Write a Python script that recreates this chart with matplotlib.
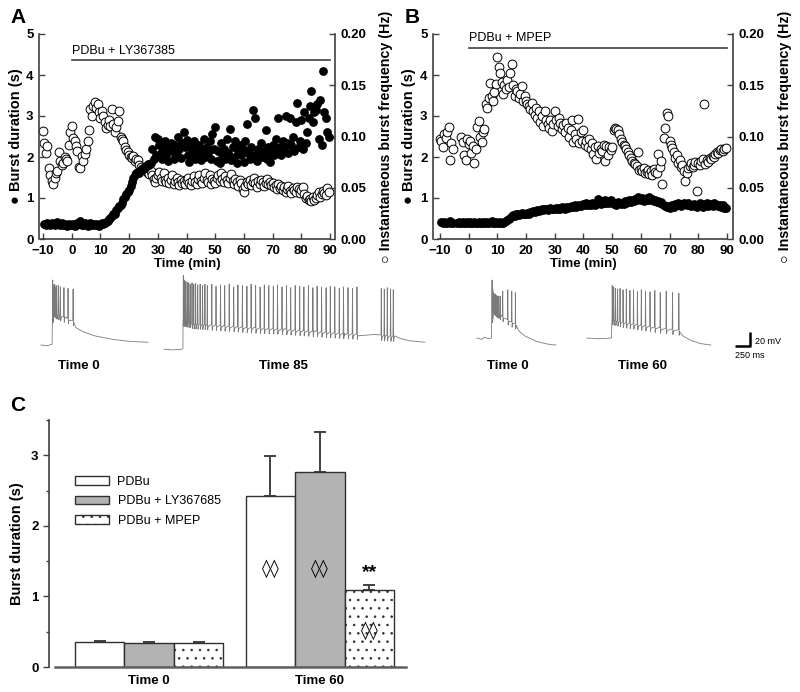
"""Burst duration / burst frequency time courses, example traces and bar summary."""

import numpy as np
import matplotlib.pyplot as plt
from matplotlib.patches import Patch
from matplotlib.ticker import MultipleLocator

nan = np.nan

# one value every 30 s, from -10 to 89.5 min
minutes = np.arange(-10, 90, 0.5)

# ---- panel A: PDBu + LY367385 ----
a_duration = [
    nan, 0.36, 0.34, 0.38, 0.36, 0.33, 0.39, 0.37, 0.34, 0.40, 0.41, 0.36, 0.33, 0.38, 0.35, 0.37, 0.34, 0.32, 0.36, 0.35,
    0.33, 0.36, 0.31, 0.35, 0.39, 0.37, 0.43, 0.35, 0.33, 0.38, 0.36, 0.32, 0.35, 0.39, 0.34, 0.37, 0.33, 0.36, 0.34, 0.32,
    0.36, 0.38, 0.37, 0.40, 0.42, 0.44, 0.48, 0.52, 0.55, 0.60, 0.62, 0.70, 0.76, 0.80, 0.84, 0.88, 0.98, 1.03, 1.10, 1.15,
    1.20, 1.30, 1.40, 1.48, 1.56, 1.60, 1.64, 1.62, 1.68, 1.70, 1.74, 1.72, 1.78, 1.82, 1.80, 1.85, 2.20, 1.95, 2.50, 2.05,
    2.45, 2.30, 2.10, 1.95, 2.25, 2.40, 2.05, 1.90, 2.20, 2.35, 2.15, 1.95, 2.30, 2.05, 2.50, 2.20, 1.98, 2.35, 2.62, 2.25,
    2.42, 2.05, 1.88, 2.25, 2.10, 2.38, 1.95, 2.20, 2.05, 2.30, 1.92, 2.15, 2.45, 2.00, 2.25, 2.10, 2.40, 1.95, 2.55, 2.20,
    2.72, 1.90, 2.15, 1.85, 2.35, 2.05, 2.20, 1.95, 2.45, 2.10, 2.68, 1.92, 2.25, 2.00, 2.38, 1.85, 2.15, 2.30, 2.05, 2.20,
    1.88, 2.40, 2.80, 2.10, 1.95, 2.25, 3.15, 2.05, 2.95, 1.90, 2.20, 2.10, 2.35, 2.00, 2.15, 2.65, 1.95, 2.25, 1.88, 2.10,
    2.30, 2.05, 2.45, 2.15, 2.95, 2.25, 2.05, 2.40, 2.20, 3.00, 2.35, 2.10, 2.96, 2.30, 2.50, 2.15, 2.85, 3.32, 2.25, 2.40,
    2.90, 2.20, 3.10, 2.35, 2.60, 2.95, 3.25, 3.60, 2.85, 3.10, 3.15, 3.30, 2.45, 3.40, 2.30, 4.10, 3.10, 2.95, 2.60, 2.50,
]
a_frequency = [
    0.105, 0.094, 0.084, 0.091, 0.069, 0.062, 0.057, 0.054, 0.060, 0.064, 0.066, 0.085, 0.076, 0.072, 0.074, 0.080, 0.078, 0.076, 0.092, 0.104,
    0.110, 0.099, 0.096, 0.091, 0.086, 0.070, 0.069, 0.081, 0.076, 0.083, 0.088, 0.096, 0.106, 0.127, 0.120, 0.130, 0.134, 0.128, 0.132, 0.124,
    0.118, 0.125, 0.120, 0.114, 0.108, 0.111, 0.116, 0.110, 0.127, 0.112, 0.104, 0.109, 0.115, 0.125, 0.100, 0.098, 0.096, 0.090, 0.087, 0.085,
    0.082, 0.080, 0.079, 0.081, 0.076, 0.078, 0.077, 0.072, 0.070, 0.068, 0.067, 0.070, 0.070, 0.064, 0.063, 0.066, 0.062, 0.059, 0.056, 0.060,
    0.062, 0.065, 0.060, 0.057, 0.064, 0.058, 0.056, 0.060, 0.055, 0.058, 0.062, 0.054, 0.057, 0.060, 0.056, 0.053, 0.058, 0.055, 0.057, 0.054,
    0.058, 0.060, 0.055, 0.053, 0.057, 0.061, 0.056, 0.054, 0.059, 0.062, 0.057, 0.055, 0.060, 0.064, 0.058, 0.056, 0.062, 0.054, 0.059, 0.057,
    0.055, 0.060, 0.062, 0.057, 0.064, 0.059, 0.056, 0.061, 0.058, 0.055, 0.060, 0.063, 0.057, 0.054, 0.059, 0.056, 0.052, 0.058, 0.055, 0.049,
    0.046, 0.052, 0.056, 0.054, 0.058, 0.053, 0.056, 0.060, 0.055, 0.051, 0.057, 0.054, 0.058, 0.056, 0.052, 0.055, 0.059, 0.054, 0.056, 0.053,
    0.055, 0.051, 0.053, 0.049, 0.054, 0.050, 0.052, 0.048, 0.051, 0.046, 0.049, 0.052, 0.047, 0.045, 0.050, 0.048, 0.046, 0.051, 0.049, 0.045,
    0.048, 0.051, 0.044, 0.040, 0.042, 0.038, 0.039, 0.037, 0.041, 0.038, 0.040, 0.043, 0.046, 0.041, 0.044, 0.047, 0.045, 0.043, 0.050, 0.046,
]

# ---- panel B: PDBu + MPEP ----
b_duration = [
    nan, 0.41, 0.39, 0.42, 0.40, 0.38, 0.41, 0.43, 0.39, 0.40, nan, nan, 0.38, 0.41, 0.39, 0.40, 0.42, 0.38, 0.40, 0.41,
    0.39, 0.41, 0.40, 0.38, 0.42, 0.40, 0.39, 0.41, 0.38, 0.40, 0.42, 0.39, 0.41, 0.40, 0.38, 0.41, 0.43, 0.40, 0.39, 0.42,
    0.40, 0.38, 0.41, 0.39, 0.40, 0.42, 0.45, 0.47, 0.50, 0.52, 0.55, 0.58, 0.57, 0.60, 0.62, 0.59, 0.61, 0.63, 0.60, 0.62,
    0.61, 0.64, 0.62, 0.66, 0.65, 0.68, 0.66, 0.69, 0.70, 0.68, 0.71, 0.73, 0.70, 0.72, 0.74, 0.71, 0.73, 0.75, 0.72, 0.74,
    0.73, 0.75, 0.72, 0.76, 0.74, 0.77, 0.75, 0.73, 0.78, 0.76, 0.79, 0.77, 0.80, 0.78, 0.82, 0.79, 0.81, 0.84, 0.80, 0.83,
    0.85, 0.82, 0.87, 0.84, 0.86, 0.83, 0.88, 0.85, 0.82, 0.86, 0.98, 0.90, 0.85, 0.93, 0.88, 0.96, 0.87, 0.92, 0.89, 0.95,
    0.91, 0.86, 0.88, 0.84, 0.90, 0.87, 0.85, 0.89, 0.86, 0.92, 0.88, 0.90, 0.94, 0.91, 0.96, 0.93, 0.98, 0.95, 1.02, 0.97,
    0.95, 0.99, 0.93, 0.97, 1.00, 0.96, 1.03, 0.94, 0.98, 0.92, 0.96, 0.90, 0.93, 0.88, 0.91, 0.85, 0.83, 0.80, 0.78, 0.81,
    0.76, 0.80, 0.83, 0.79, 0.85, 0.82, 0.87, 0.84, 0.81, 0.86, 0.89, 0.85, 0.82, 0.88, 0.84, 0.80, 0.83, 0.86, 0.81, 0.79,
    0.84, 0.87, 0.82, 0.78, 0.85, 0.83, 0.88, 0.80, 0.86, 0.84, 0.81, 0.87, 0.85, 0.82, 0.80, 0.84, 0.78, 0.82, 0.76, 0.75,
]
b_frequency = [
    0.098, 0.096, 0.090, 0.102, 0.099, 0.104, 0.109, 0.077, 0.094, 0.088, nan, nan, nan, nan, nan, 0.100, 0.095, 0.082, 0.077, 0.098,
    0.093, 0.096, 0.084, 0.091, 0.074, 0.088, 0.109, 0.115, 0.100, 0.095, 0.104, 0.107, 0.132, 0.128, 0.138, 0.152, 0.140, 0.135, 0.143, 0.151,
    0.178, 0.168, 0.162, 0.153, 0.141, 0.150, 0.146, 0.155, 0.148, 0.162, 0.171, 0.150, 0.140, 0.146, 0.144, 0.138, 0.141, 0.149, 0.135, 0.140,
    0.135, 0.132, 0.130, 0.127, 0.133, 0.125, 0.121, 0.128, 0.118, 0.125, 0.114, 0.120, 0.110, 0.125, 0.116, 0.112, 0.108, 0.116, 0.105, 0.112,
    0.125, 0.116, 0.110, 0.118, 0.113, 0.107, 0.111, 0.104, 0.113, 0.108, 0.100, 0.106, 0.116, 0.095, 0.102, 0.098, 0.117, 0.094, 0.104, 0.096,
    0.106, 0.092, 0.096, 0.090, 0.098, 0.088, 0.094, 0.083, 0.090, 0.078, 0.091, 0.084, 0.088, 0.086, 0.092, 0.076, 0.091, 0.082, 0.090, 0.087,
    0.090, 0.106, 0.108, 0.107, 0.106, 0.102, 0.098, 0.095, 0.092, 0.091, 0.088, 0.085, 0.082, 0.079, 0.076, 0.074, 0.073, 0.071, 0.085, 0.067,
    0.068, 0.066, 0.069, 0.064, 0.065, 0.067, 0.063, 0.066, 0.062, 0.068, 0.065, 0.064, 0.083, 0.070, 0.076, 0.054, 0.099, 0.108, 0.123, 0.120,
    0.096, 0.092, 0.089, 0.085, 0.079, 0.082, 0.074, 0.077, 0.070, 0.072, 0.066, 0.057, 0.064, 0.069, 0.071, 0.074, 0.070, 0.072, 0.075, 0.047,
    0.074, 0.072, 0.076, 0.078, 0.132, 0.073, 0.077, 0.075, 0.079, 0.078, 0.081, 0.080, 0.083, 0.085, 0.084, 0.087, 0.088, 0.086, 0.088, 0.089,
]
drug_on, drug_off = 0, 90

# ---- example traces (ms from trace start, mV) ----
a0_env_t = [0, 100, 185, 195, 260, 400, 540, 580, 700, 900, 1200, 1500, 1783]
a0_env_v = [-65, -66, -64, -15, -20, -25, -30, -40, -46, -52, -57, -60, -61]
a0_spk_t = [193, 210, 227, 243, 260, 290, 320, 380, 448, 533]
a0_spk_v = [28, 20, 22, 18, 20, 20, 18, 17, 16, 15]

a85_env_t = [0, 150, 300, 316, 320, 500, 1000, 1500, 2000, 2500, 3000, 3500, 3700, 3850, 3950, 4100, 4350]
a85_env_v = [-71, -72, -71, -70, -30, -34, -37, -40, -42, -45, -48, -50, -51, -52, -56, -59, -61]
a85_spk_t = [320, 340, 360, 385, 410, 435, 465, 495, 525, 560, 600, 640, 680,
             720, 795, 865, 940, 1010, 1085, 1160, 1230, 1305, 1380, 1450, 1525, 1600, 1670,
             1745, 1820, 1890, 1965, 2040, 2110, 2185, 2260, 2330, 2405, 2480, 2550, 2625,
             2700, 2770, 2845, 2920, 2990, 3065, 3140, 3215, 3620, 3670, 3720, 3775, 3820]
a85_spk_v = [35, 28, 26, 25, 24, 22, 24, 22, 23, 21, 22, 20, 22,
             20, 22, 19, 21, 20, 22, 18, 21, 20, 19, 22, 20, 18, 21,
             20, 19, 21, 18, 20, 17, 20, 19, 18, 20, 17, 19, 18,
             17, 19, 18, 16, 18, 17, 16, 18, 16, 15, 17, 15, 14]

b0_env_t = [0, 80, 120, 200, 240, 255, 300, 400, 500, 640, 700, 800, 1000, 1200, 1317]
b0_env_v = [-55, -57, -54, -56, -55, -10, -15, -22, -28, -34, -45, -52, -60, -64, -65]
b0_spk_t = [250, 262, 275, 290, 305, 322, 340, 360, 385, 427, 512, 578, 638]
b0_spk_v = [28, 15, 10, 8, 8, 6, 5, 5, 5, 12, 14, 12, 10]

b60_env_t = [0, 200, 410, 420, 600, 900, 1200, 1530, 1600, 1750, 1900, 2067]
b60_env_v = [-55, -56, -55, -28, -32, -36, -40, -43, -52, -59, -63, -65]
b60_spk_t = [420, 445, 475, 510, 550, 600, 655, 715, 775, 840, 905, 975, 1050, 1130, 1220, 1320, 1425, 1530]
b60_spk_v = [20, 18, 16, 15, 16, 14, 15, 13, 14, 12, 14, 12, 11, 13, 10, 12, 10, 9]

# ---- panel C: burst duration (s), mean and SEM ----
timepoints = ["Time 0", "Time 60"]
pdbu_mean, pdbu_sem = [0.355, 2.42], [0.015, 0.565]
ly_mean, ly_sem = [0.345, 2.77], [0.012, 0.56]
mpep_mean, mpep_sem = [0.335, 1.09], [0.015, 0.07]

plt.rcParams["font.family"] = ["Liberation Sans", "DejaVu Sans"]
plt.rcParams["font.weight"] = "bold"
plt.rcParams["axes.labelweight"] = "bold"
plt.rcParams["hatch.linewidth"] = 0.6

W, H = 800, 692
SPINE = "#404040"
fig = plt.figure(figsize=(W / 100, H / 100), dpi=100)


def box(left, top, right, bottom):
    """Axes rectangle from pixel edges."""
    return [left / W, 1 - bottom / H, (right - left) / W, (bottom - top) / H]


def time_course(rect, xlim, duration, frequency, drug_label, bar_y):
    ax = fig.add_axes(rect)
    ax2 = ax.twinx()
    ax.set_zorder(ax2.get_zorder() + 1)
    ax.patch.set_visible(False)

    ax2.scatter(minutes, frequency, s=40, facecolor="white", edgecolor="black",
                linewidth=0.7, clip_on=False)
    ax.scatter(minutes, duration, s=40, color="black", linewidth=0, clip_on=False)

    ax.plot([drug_on, drug_off], [bar_y, bar_y], color=SPINE, lw=1.2)
    ax.text(drug_on, bar_y + 0.08, drug_label, fontsize=9, fontweight="normal",
            va="bottom", ha="left")

    ax.set_xlim(*xlim)
    ax.set_ylim(0, 5)
    ax2.set_ylim(0, 0.20)
    ax.set_xticks(range(-10, 91, 10))
    ax.set_yticks(range(0, 6))
    ax2.set_yticks([0, 0.05, 0.10, 0.15, 0.20])
    ax2.set_yticklabels(["0.00", "0.05", "0.10", "0.15", "0.20"])

    for a in (ax, ax2):
        for s in a.spines.values():
            s.set_color(SPINE)
            s.set_linewidth(1.2)
        a.spines["top"].set_visible(False)
        a.tick_params(direction="in", length=4, width=1, color=SPINE,
                      labelsize=9.5, pad=4)
    ax.spines["right"].set_visible(False)
    ax2.spines["left"].set_visible(False)
    ax2.spines["bottom"].set_visible(False)
    ax.spines["bottom"].set_bounds(-10.6, 90)

    ax.set_xlabel("Time (min)", fontsize=9.5, labelpad=1)
    ax.set_ylabel("\u25cf Burst duration (s)", fontsize=10.5)
    ax.yaxis.set_label_coords(-0.055, 0.5)
    ax2.set_ylabel("\u25cb Instantaneous burst frequency (Hz)", fontsize=10.3)
    ax2.yaxis.set_label_coords(1.15, 0.5)
    return ax


time_course(box(39, 34, 335, 239), (-11.4, 91.7), a_duration, a_frequency,
            "PDBu + LY367385", 4.37)
time_course(box(433, 34, 733, 239), (-12.4, 92.1), b_duration, b_frequency,
            "PDBu + MPEP", 4.67)


# ---- traces strip: 16.7 ms and 1.43 mV per pixel ----
def trace_path(env_t, env_v, spk_t, spk_v):
    t = list(env_t)
    v = list(env_v)
    base = np.interp(spk_t, env_t, env_v)
    for st, sv, b in zip(spk_t, spk_v, base):
        t += [st - 2, st + 3, st + 9, st + 16]
        v += [b, sv, b - 8, b - 3]
    order = np.argsort(t, kind="stable")
    return np.asarray(t)[order], np.asarray(v)[order]


ax_tr = fig.add_axes(box(0, 270, 800, 395))
ax_tr.set_xlim(0, 800 * 16.67)
ax_tr.set_ylim(-136.5, 42.3)
ax_tr.axis("off")
traces = [
    (683, a0_env_t, a0_env_v, a0_spk_t, a0_spk_v),
    (2733, a85_env_t, a85_env_v, a85_spk_t, a85_spk_v),
    (7950, b0_env_t, b0_env_v, b0_spk_t, b0_spk_v),
    (9783, b60_env_t, b60_env_v, b60_spk_t, b60_spk_v),
]
for start, et, ev, st, sv in traces:
    t, v = trace_path(et, ev, st, sv)
    ax_tr.plot(t + start, v, color="#7a7a7a", lw=0.6)

# scale bar 250 ms / 20 mV
ax_tr.plot([12250, 12500, 12500], [-66.4, -66.4, -46.4], color="black", lw=1.8,
           solid_capstyle="butt")
fig.text(755 / W, 1 - 342 / H, "20 mV", fontsize=6.5, fontweight="normal", va="center")
fig.text(735 / W, 1 - 356 / H, "250 ms", fontsize=6.5, fontweight="normal", va="center")
for label, xc in [("Time 0", 79), ("Time 85", 283), ("Time 0", 508), ("Time 60", 643)]:
    fig.text(xc / W, 1 - 366 / H, label, fontsize=9.5, ha="center", va="center")

# ---- panel C ----
axc = fig.add_axes(box(49, 420, 406, 667))
group_x = np.array([0.0, 3.45])
bar_colors = ["white", "#b3b3b3", "white"]
bar_hatch = [None, None, ".."]
means = [pdbu_mean, ly_mean, mpep_mean]
sems = [pdbu_sem, ly_sem, mpep_sem]
names = ["PDBu", "PDBu + LY367685", "PDBu + MPEP"]
for i, (m, e) in enumerate(zip(means, sems)):
    xs = group_x + (i - 1)
    axc.bar(xs, m, width=1.0, color=bar_colors[i], edgecolor="#303030",
            linewidth=1.0, hatch=bar_hatch[i], zorder=2)
    axc.errorbar(xs, m, yerr=[np.zeros(2), e], fmt="none", ecolor=SPINE,
                 elinewidth=1.4, capsize=4, capthick=1.4, zorder=1)

# significance marks on the Time 60 bars
for i, y in enumerate([1.4, 1.4, 0.52]):
    axc.text(group_x[1] + i - 1, y, "\u25ca\u25ca", fontsize=13, fontweight="normal",
             ha="center", va="center", family=["DejaVu Sans"], zorder=3)
axc.text(group_x[1] + 1, 1.22, "**", fontsize=14, ha="center", va="bottom")

axc.set_xlim(-2.02, 5.19)
axc.set_ylim(0, 3.5)
axc.set_yticks([0, 1, 2, 3])
axc.yaxis.set_minor_locator(MultipleLocator(0.5))
axc.set_xticks(group_x)
axc.set_xticklabels(timepoints)
for s in ("top", "right"):
    axc.spines[s].set_visible(False)
axc.spines["left"].set_color(SPINE)
axc.spines["left"].set_linewidth(1.2)
axc.spines["bottom"].set_color("#606060")
axc.spines["bottom"].set_linewidth(1.8)
axc.spines["bottom"].set_bounds(-1.9, 5.19)
axc.tick_params(axis="y", which="major", direction="out", length=4, width=1,
                color=SPINE, labelsize=9.5)
axc.tick_params(axis="y", which="minor", direction="out", length=2.5, width=1,
                color=SPINE)
axc.tick_params(axis="x", length=0, labelsize=9.5, pad=6)
axc.set_ylabel("Burst duration (s)", fontsize=10.5)
axc.yaxis.set_label_coords(-0.07, 0.5)

handles = [Patch(facecolor=c, edgecolor="#303030", hatch=h, linewidth=1.0)
           for c, h in zip(bar_colors, bar_hatch)]
axc.legend(handles, names, loc="upper left", frameon=False,
           bbox_to_anchor=(75 / W, 1 - 476 / H), bbox_transform=fig.transFigure,
           borderpad=0, borderaxespad=0, handlelength=2.7, handleheight=0.65,
           handletextpad=0.7, labelspacing=0.6,
           prop={"size": 9, "weight": "normal"})

fig.text(10 / W, 1 - 23 / H, "A", fontsize=15, va="baseline")
fig.text(405 / W, 1 - 23 / H, "B", fontsize=15, va="baseline")
fig.text(10 / W, 1 - 411 / H, "C", fontsize=15, va="baseline")

fig.savefig("out.png", dpi=100)
